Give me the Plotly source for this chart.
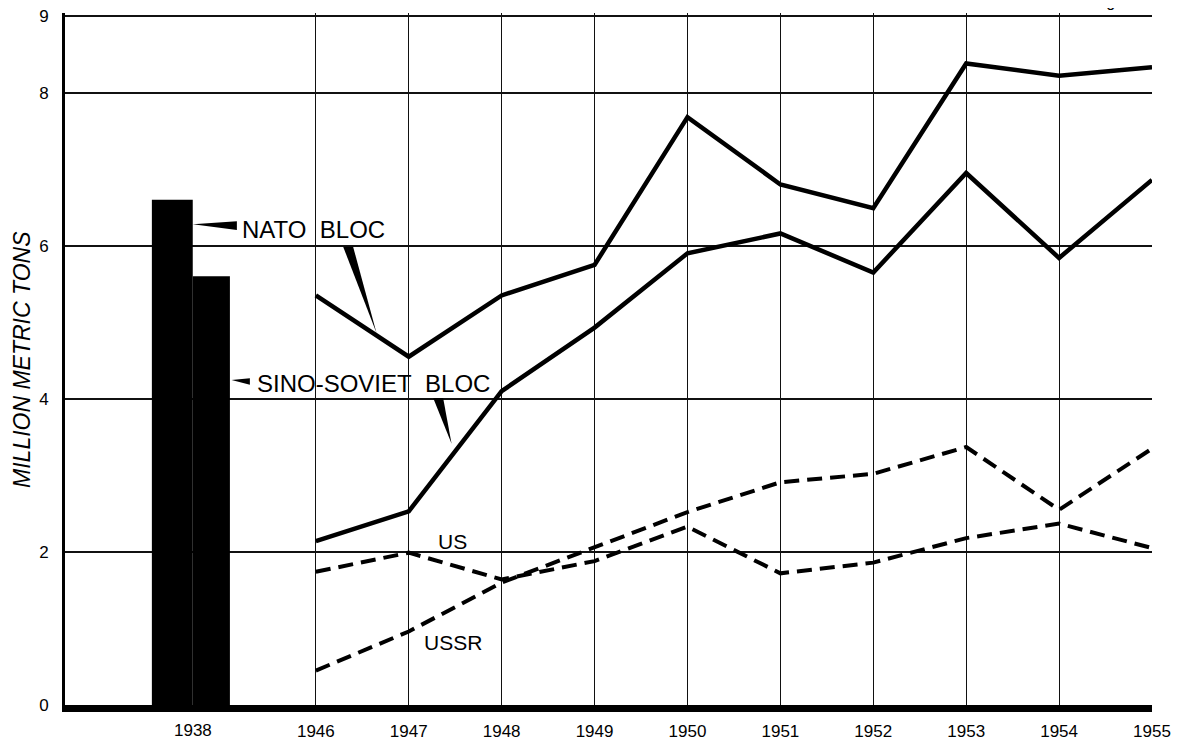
"""Steel (?) output, NATO bloc vs Sino-Soviet bloc, 1938 and 1946-55."""
import plotly.graph_objects as go

YEARS = [1946, 1947, 1948, 1949, 1950, 1951, 1952, 1953, 1954, 1955]
NATO = [5.35, 4.55, 5.35, 5.75, 7.68, 6.8, 6.49, 8.38, 8.22, 8.33]
SINO_SOVIET = [2.14, 2.53, 4.1, 4.93, 5.9, 6.16, 5.65, 6.95, 5.84, 6.86]
US = [1.74, 1.99, 1.64, 1.88, 2.33, 1.72, 1.86, 2.18, 2.37, 2.05]
USSR = [0.45, 0.96, 1.6, 2.06, 2.52, 2.91, 3.02, 3.37, 2.55, 3.35]

PREWAR_LABEL = "1938"
PREWAR_NATO = 6.6
PREWAR_SINO_SOVIET = 5.6

Y_TICKS = [0, 2, 4, 6, 8, 9]

# the 1939-45 gap is squeezed out: the 1938 pair sits just left of 1946
PREWAR_X = 1944.675
X_RANGE = [1943.3, 1955]
Y_RANGE = [0, 9.04]

LABEL_FONT = {"family": "Liberation Sans", "size": 24, "color": "black"}
SMALL_FONT = {"family": "Liberation Sans", "size": 21, "color": "black"}
TICK_FONT = {"family": "Liberation Sans", "size": 17, "color": "black"}


def wedge(tip, a, b):
    """Filled black pointer, sharp at tip, wide between a and b."""
    return {
        "type": "path", "xref": "x", "yref": "y",
        "path": f"M {tip[0]},{tip[1]} L {a[0]},{a[1]} L {b[0]},{b[1]} Z",
        "fillcolor": "black", "line": {"width": 0}, "layer": "above",
    }


fig = go.Figure()

fig.add_trace(go.Bar(x=[PREWAR_X], y=[PREWAR_NATO], width=0.44, offset=-0.44,
                     marker={"color": "black", "line": {"width": 0}},
                     showlegend=False))
fig.add_trace(go.Bar(x=[PREWAR_X], y=[PREWAR_SINO_SOVIET], width=0.40, offset=0,
                     marker={"color": "black", "line": {"width": 0}},
                     showlegend=False))

for vals in (NATO, SINO_SOVIET):
    fig.add_trace(go.Scatter(x=YEARS, y=vals, mode="lines",
                             line={"color": "black", "width": 4.5},
                             showlegend=False))
for vals in (US, USSR):
    fig.add_trace(go.Scatter(x=YEARS, y=vals, mode="lines",
                             line={"color": "black", "width": 4, "dash": "15px,8px"},
                             showlegend=False))

annotations = [
    dict(x=1945.182, y=6.208, text="NATO\u00a0\u00a0BLOC", xanchor="left", font=LABEL_FONT),
    dict(x=1945.343, y=4.195, text="SINO-SOVIET\u00a0\u00a0BLOC", xanchor="left", font=LABEL_FONT),
    dict(x=1947.475, y=2.134, text="US", font=SMALL_FONT),
    dict(x=1947.479, y=0.818, text="USSR", font=SMALL_FONT),
    # 1938 tick label (no gridline wanted there)
    dict(x=PREWAR_X, xref="x", y=0, yref="paper", yanchor="middle", yshift=-25,
         text=PREWAR_LABEL, font=TICK_FONT),
    dict(x=-0.0396, xref="paper", y=0.5, yref="paper", textangle=-90,
         xanchor="center", yanchor="middle",
         text="<i>MILLION METRIC TONS</i>",
         font={"family": "Liberation Sans", "size": 23, "color": "black"}),
    dict(x=1.0098, xref="paper", y=1.0014, yref="paper", xanchor="right", yanchor="bottom",
         text="Figure 14", font={"family": "Liberation Sans", "size": 16, "color": "black"}),
]
for a in annotations:
    a.setdefault("xref", "x")
    a.setdefault("yref", "y")
    a["showarrow"] = False

# the page body adds an 8px margin, so the figure is sized/margined for that
fig.update_layout(
    width=1171, height=735,
    margin={"l": 57, "r": 27, "t": 5, "b": 38},
    paper_bgcolor="white", plot_bgcolor="white",
    barmode="overlay",
    annotations=annotations,
    shapes=[
        wedge((1944.676, 6.279), (1945.150, 6.321), (1945.150, 6.204)),
        wedge((1946.653, 4.861), (1946.294, 5.987), (1946.401, 5.987)),
        wedge((1945.093, 4.247), (1945.290, 4.269), (1945.290, 4.182)),
        wedge((1947.461, 3.412), (1947.263, 4.009), (1947.370, 4.009)),
    ],
    xaxis={
        "range": X_RANGE, "tickvals": YEARS, "ticktext": [str(y) for y in YEARS],
        "showgrid": True, "gridcolor": "#111", "gridwidth": 1,
        "showline": True, "linecolor": "black", "linewidth": 7,
        "ticks": "", "ticklabelstandoff": 5, "tickfont": TICK_FONT,
        "ticklabeloverflow": "allow",
        "zeroline": False, "automargin": False,
    },
    yaxis={
        "range": Y_RANGE, "tickvals": Y_TICKS,
        "showgrid": True, "gridcolor": "#111", "gridwidth": 1.5,
        "showline": True, "linecolor": "black", "linewidth": 3,
        "ticks": "", "ticklabelstandoff": 10, "tickfont": TICK_FONT,
        "ticklabeloverflow": "allow",
        "zeroline": False, "automargin": False,
    },
)

fig.write_html("out.html")
